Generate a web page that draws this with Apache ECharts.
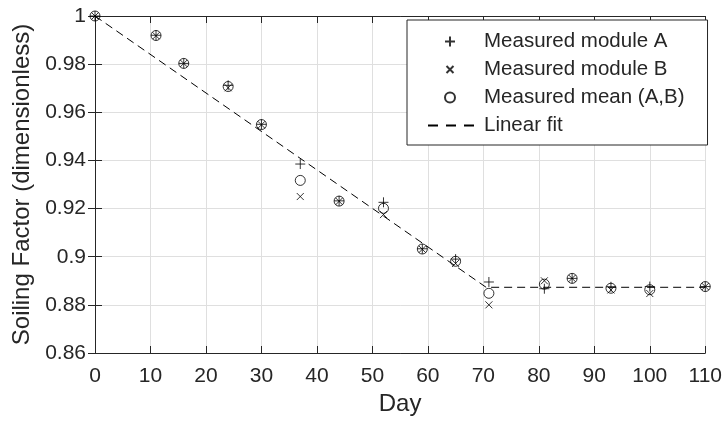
<!DOCTYPE html>
<html>
<head>
<meta charset="utf-8">
<script src="https://cdn.jsdelivr.net/npm/echarts@6/dist/echarts.min.js"></script>
<style>
  html, body { margin: 0; padding: 0; background: #fff; }
  #chart { width: 725px; height: 423px; }
</style>
</head>
<body>
<div id="chart"></div>
<script>
// measurement days
const days = [0, 11, 16, 24, 30, 37, 44, 52, 59, 65, 71, 81, 86, 93, 100, 110];
// soiling factor
const moduleA = [1.000, 0.9920, 0.9803, 0.9712, 0.9550, 0.9385, 0.9232, 0.9226, 0.9033, 0.8990, 0.8895, 0.8867, 0.8910, 0.8875, 0.8876, 0.8876];
const moduleB = [1.000, 0.9918, 0.9803, 0.9702, 0.9548, 0.9250, 0.9230, 0.9175, 0.9031, 0.8972, 0.8800, 0.8900, 0.8910, 0.8862, 0.8847, 0.8876];
const meanAB  = [1.000, 0.9919, 0.9803, 0.9707, 0.9549, 0.9317, 0.9231, 0.9201, 0.9032, 0.8981, 0.8848, 0.8886, 0.8910, 0.8869, 0.8863, 0.8876];
// piecewise linear fit (break point and plateau)
const fitDays = [0, 70.5, 110];
const fitVals = [1.000, 0.8873, 0.8873];

const xTicks = { min: 0, max: 110, interval: 10 };
const yTicks = { min: 0.86, max: 1, interval: 0.02 };

const font = "'Liberation Sans', Arial, Helvetica, sans-serif";
const ink = '#262626';

const pair = (xs, ys) => xs.map((x, i) => [x, ys[i]]);

const chart = echarts.init(document.getElementById('chart'));

const axisLine = { show: true, lineStyle: { color: ink, width: 1 } };
const axisTick = { show: true, inside: true, length: 7, lineStyle: { color: ink } };

const option = {
  animation: false,
  backgroundColor: '#fff',
  grid: { left: 95, right: 16, top: 16, bottom: 70, containLabel: false },
  legend: {
    left: 407,
    top: 20,
    orient: 'vertical',
    padding: [11, 23, 9, 13],
    itemWidth: 58,
    itemHeight: 10,
    itemGap: 7,
    itemTextGap: 3,
    backgroundColor: '#fff',
    borderColor: ink,
    borderWidth: 1,
    borderRadius: 0,
    textStyle: { fontFamily: font, fontSize: 20.5, color: ink, lineHeight: 18 },
    data: [
      'Measured module A',
      'Measured module B',
      'Measured mean (A,B)',
      { name: 'Linear fit', itemStyle: { opacity: 0 }, lineStyle: { type: [10, 8], dashOffset: -7 } }
    ]
  },
  xAxis: [
    {
      type: 'value', ...xTicks,
      name: 'Day', nameLocation: 'middle', nameGap: 39,
      nameTextStyle: { fontFamily: font, fontSize: 24, color: ink },
      axisLine, axisTick,
      axisLabel: { fontFamily: font, fontSize: 21, color: ink, margin: 13 },
      splitLine: { show: true, lineStyle: { color: '#dfdfdf', width: 1 } }
    },
    {
      type: 'value', ...xTicks, position: 'top',
      axisLine, axisTick, axisLabel: { show: false }, splitLine: { show: false }
    }
  ],
  yAxis: [
    {
      type: 'value', ...yTicks,
      name: 'Soiling Factor (dimensionless)', nameLocation: 'middle', nameGap: 60,
      nameTextStyle: { fontFamily: font, fontSize: 24, color: ink },
      axisLine, axisTick,
      axisLabel: { fontFamily: font, fontSize: 21, color: ink, margin: 9 },
      splitLine: { show: true, lineStyle: { color: '#dfdfdf', width: 1 } }
    },
    {
      type: 'value', ...yTicks, position: 'right',
      axisLine, axisTick, axisLabel: { show: false }, splitLine: { show: false }
    }
  ],
  series: [
    {
      name: 'Measured module A',
      type: 'scatter',
      clip: false,
      symbol: 'path://M0,5L10,5M5,0L5,10',
      symbolSize: 10,
      itemStyle: { color: 'none', borderColor: '#000', borderWidth: 1 },
      data: pair(days, moduleA),
      z: 3
    },
    {
      name: 'Measured module B',
      type: 'scatter',
      clip: false,
      // outer moves only widen the box so the cross is drawn a bit smaller
      symbol: 'path://M0,0M10,10M1.5,1.5L8.5,8.5M8.5,1.5L1.5,8.5',
      symbolSize: 10,
      itemStyle: { color: 'none', borderColor: '#000', borderWidth: 1 },
      data: pair(days, moduleB),
      z: 3
    },
    {
      name: 'Measured mean (A,B)',
      type: 'scatter',
      clip: false,
      symbol: 'circle',
      symbolSize: 10,
      itemStyle: { color: 'none', borderColor: '#000', borderWidth: 1 },
      data: pair(days, meanAB),
      z: 3
    },
    {
      name: 'Linear fit',
      type: 'line',
      clip: false,
      symbol: 'none',
      showSymbol: false,
      lineStyle: { color: '#000', width: 1, type: [8, 5] },
      itemStyle: { color: '#000' },
      data: pair(fitDays, fitVals),
      z: 2
    }
  ]
};

chart.setOption(option);
</script>
</body>
</html>
